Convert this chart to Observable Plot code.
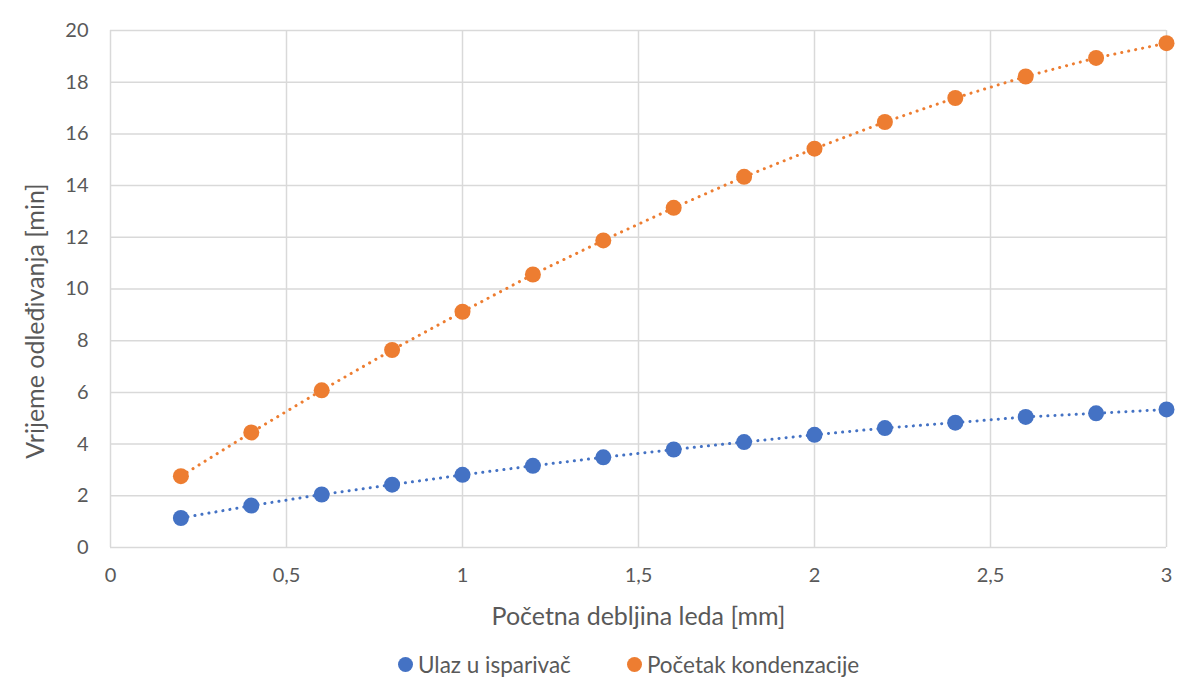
<!DOCTYPE html>
<html>
<head>
<meta charset="utf-8">
<script src="https://cdn.jsdelivr.net/npm/d3@7"></script>
<script src="https://cdn.jsdelivr.net/npm/@observablehq/plot@0.6"></script>
<style>
  body { margin: 0; background: #fff; font-family: Lato, "Open Sans", sans-serif; }
  #legend { display: flex; justify-content: flex-start; padding-left: 398px; gap: 56px; font-size: 22.5px; color: #595959; height: 50px; align-items: center; margin-top: -6px; }
  .item { display: flex; align-items: center; gap: 5px; }
  .sw { width: 15px; height: 15px; border-radius: 50%; display: inline-block; }
</style>
</head>
<body>
<div id="chart"></div>
<div id="legend"></div>
<script>
const thickness = [0.2, 0.4, 0.6, 0.8, 1.0, 1.2, 1.4, 1.6, 1.8, 2.0, 2.2, 2.4, 2.6, 2.8, 3.0];
const ulazUIsparivac = [1.14, 1.62, 2.05, 2.43, 2.81, 3.16, 3.49, 3.79, 4.08, 4.36, 4.62, 4.83, 5.05, 5.19, 5.34];
const pocetakKondenzacije = [2.76, 4.45, 6.08, 7.64, 9.12, 10.56, 11.88, 13.14, 14.34, 15.43, 16.46, 17.39, 18.22, 18.94, 19.51];
const seriesNames = ["Ulaz u isparivač", "Početak kondenzacije"];
const seriesColors = ["#4472C4", "#ED7D31"];
const xTicks = [0, 0.5, 1, 1.5, 2, 2.5, 3];
const yTicks = [0, 2, 4, 6, 8, 10, 12, 14, 16, 18, 20];

const data = [];
thickness.forEach((t, i) => {
  data.push({x: t, y: ulazUIsparivac[i], s: seriesNames[0]});
  data.push({x: t, y: pocetakKondenzacije[i], s: seriesNames[1]});
});
const fmt = d => String(d).replace(".", ",");

const chart = Plot.plot({
  width: 1204,
  height: 645,
  marginLeft: 110,
  marginRight: 38,
  marginTop: 30,
  marginBottom: 98,
  style: {fontFamily: "Lato, 'Open Sans', sans-serif", fontSize: "20px", color: "#595959", background: "#fff"},
  x: {domain: [0, 3], ticks: xTicks, tickFormat: fmt, tickSize: 0, tickPadding: 20, label: null},
  y: {domain: [0, 20], ticks: yTicks, tickSize: 0, tickPadding: 22, label: null},
  color: {domain: seriesNames, range: seriesColors},
  marks: [
    Plot.gridX(xTicks, {stroke: "#d9d9d9", strokeOpacity: 1, strokeWidth: 1.5}),
    Plot.gridY(yTicks, {stroke: "#d9d9d9", strokeOpacity: 1, strokeWidth: 1.5}),
    Plot.axisX({ticks: xTicks, tickFormat: fmt, tickSize: 0, tickPadding: 20, fontSize: 20, fill: "#595959", label: null}),
    Plot.axisY({ticks: yTicks, tickSize: 0, tickPadding: 22, fontSize: 20, fill: "#595959", label: null}),
    Plot.text(["Početna debljina leda [mm]"], {frameAnchor: "bottom", dy: 77, fontSize: 25, fill: "#595959"}),
    Plot.text(["Vrijeme odleđivanja [min]"], {frameAnchor: "left", textAnchor: "middle", dx: -75, dy: 32, rotate: -90, fontSize: 25, fill: "#595959"}),
    Plot.line(data, {x: "x", y: "y", z: "s", stroke: "s", strokeWidth: 3, strokeDasharray: "0.1 7", strokeLinecap: "round"}),
    Plot.dot(data, {x: "x", y: "y", fill: "s", r: 8})
  ]
});
document.getElementById("chart").appendChild(chart);

const legend = document.getElementById("legend");
seriesNames.forEach((n, i) => {
  const it = document.createElement("div");
  it.className = "item";
  it.innerHTML = `<span class="sw" style="background:${seriesColors[i]}"></span><span>${n}</span>`;
  legend.appendChild(it);
});
</script>
</body>
</html>
